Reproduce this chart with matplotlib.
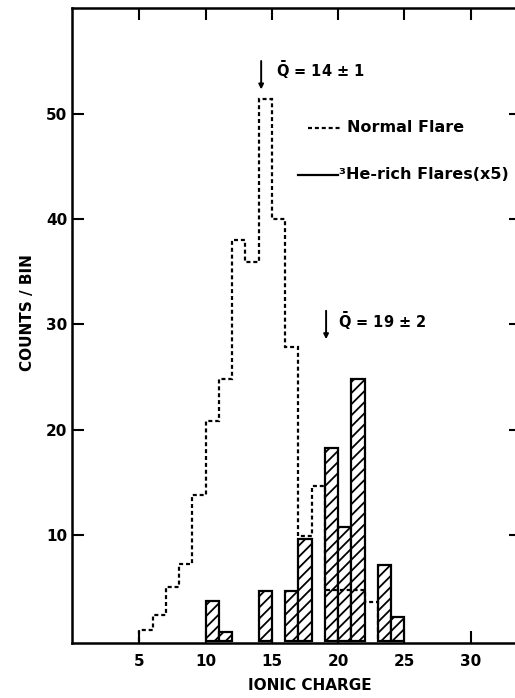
import numpy as np
import matplotlib
matplotlib.use("Agg")
import matplotlib.pyplot as plt

# ---------- Data ----------
# normal flare histogram, one bin per unit charge starting at Q = 5
normal_edges = np.arange(5, 24)
normal_counts = [1.0, 2.4, 5.1, 7.3, 13.8, 20.8, 24.8, 38.0, 35.9,
                 51.4, 40.0, 27.9, 9.9, 14.7, 4.8, 4.8, 4.8, 3.7]

# 3He-rich flares (scaled x5), bins starting at Q = 10
he_bins = np.arange(10, 25)
he_counts = [3.8, 0.8, 0, 0, 4.7, 0, 4.7, 9.6, 0, 18.3, 10.8, 24.8, 0, 7.2, 2.2]

xticks = [5, 10, 15, 20, 25, 30]
yticks = [10, 20, 30, 40, 50]

# ---------- Style ----------
plt.rcParams['font.family'] = 'DejaVu Sans'
plt.rcParams['font.weight'] = 'bold'
plt.rcParams['mathtext.fontset'] = 'dejavusans'
plt.rcParams['hatch.linewidth'] = 1.3

fig = plt.figure(figsize=(5.15, 6.98), dpi=100)
ax = fig.add_axes([0.1392, 0.0792, 0.8722, 0.9089])

# ---------- Hatched bars ----------
he_bins = np.asarray(he_bins)
he_counts = np.asarray(he_counts)
keep = he_counts > 0
ax.bar(he_bins[keep], he_counts[keep], width=1.0, align='edge',
       facecolor='white', edgecolor='black', hatch='///', linewidth=1.6,
       zorder=2)

# ---------- Dashed histogram ----------
dash = (0, (1.8, 1.3))
ax.stairs(normal_counts, normal_edges, baseline=0, fill=False,
          color='black', linewidth=1.6, linestyle=dash, zorder=3)

# ---------- Mean charge markers ----------
arrow = dict(arrowstyle='-|>', lw=1.4, color='black', mutation_scale=7,
             shrinkA=0, shrinkB=0)
ax.annotate('', xy=(14.2, 52.3), xytext=(14.2, 55.0), arrowprops=arrow)
ax.text(15.3, 54.1, r'$\bar{\mathbf{Q}}$ = 14 $\pm$ 1', fontsize=10.5,
        va='center', ha='left')
ax.annotate('', xy=(19.1, 28.6), xytext=(19.1, 31.3), arrowprops=arrow)
ax.text(20.0, 30.35, r'$\bar{\mathbf{Q}}$ = 19 $\pm$ 2', fontsize=10.5,
        va='center', ha='left')

# ---------- Key ----------
ax.plot([17.7, 20.2], [48.6, 48.6], color='black', lw=1.6, linestyle=dash)
ax.text(20.7, 48.65, 'Normal Flare', fontsize=11.5, va='center', ha='left')
ax.plot([17.0, 20.0], [44.2, 44.2], color='black', lw=1.6)
ax.text(20.05, 44.25, '\u00b3He-rich Flares(x5)', fontsize=11.5,
        va='center', ha='left')

# ---------- Axes ----------
ax.set_xlim(-0.1, 33.8)
ax.set_ylim(-0.2, 60.0)
ax.set_xticks(xticks)
ax.set_yticks(yticks)
ax.tick_params(direction='in', length=8.5, width=1.5, top=True, right=True,
               labelsize=11)
ax.tick_params(axis='x', pad=8)
ax.tick_params(axis='y', pad=3)
for s in ax.spines.values():
    s.set_linewidth(1.8)

ax.set_xlabel('IONIC CHARGE', fontsize=11, fontweight='bold')
ax.set_ylabel('COUNTS / BIN', fontsize=11, fontweight='bold')
ax.xaxis.set_label_coords(0.53, -0.055)
ax.yaxis.set_label_coords(-0.082, 0.521)

fig.savefig('out.png', dpi=100)
